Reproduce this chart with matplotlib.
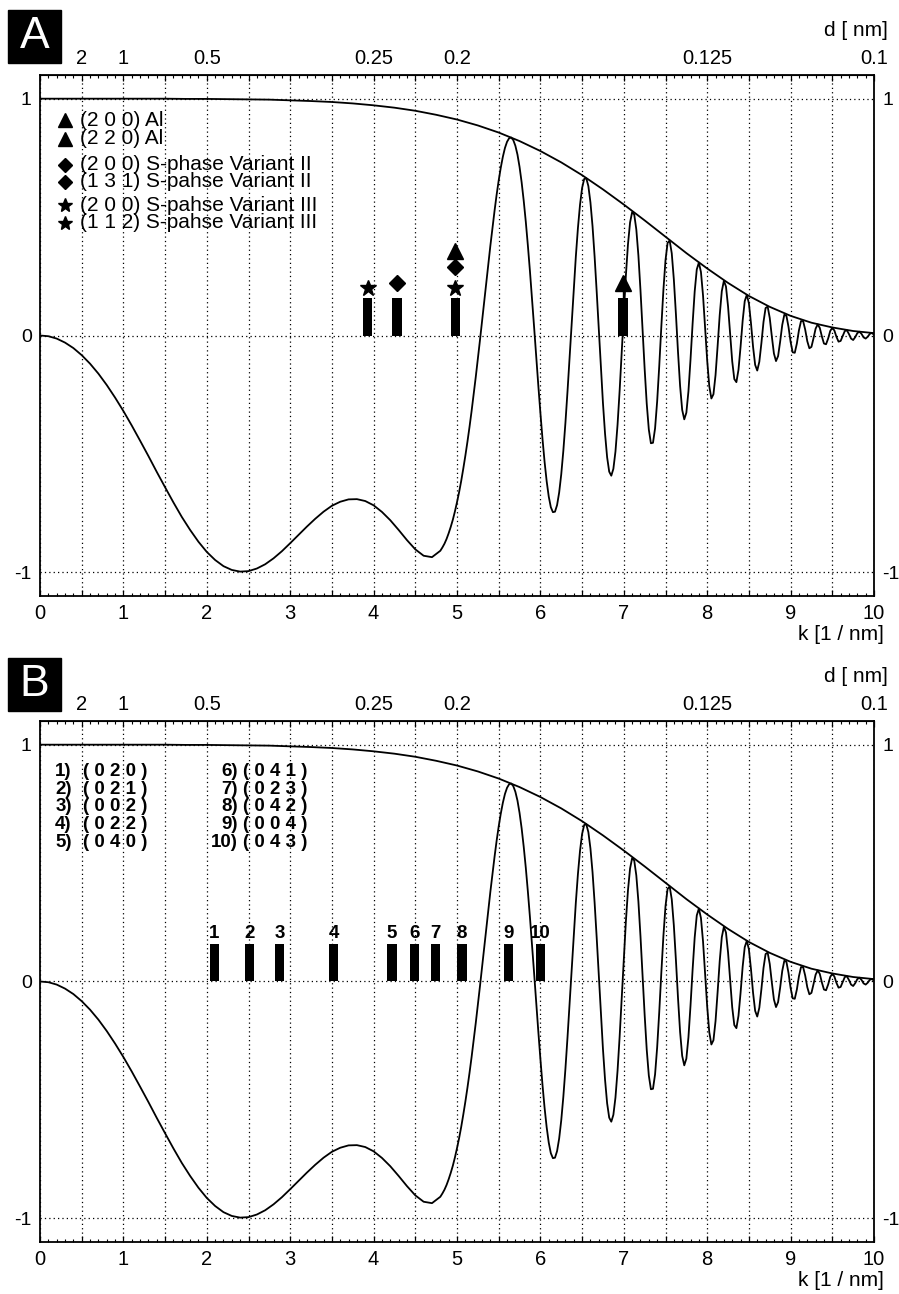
import numpy as np
import matplotlib
matplotlib.use("Agg")
import matplotlib.pyplot as plt
from matplotlib.patches import Rectangle
from matplotlib.ticker import MultipleLocator, NullLocator

plt.rcParams["font.family"] = ["Liberation Sans", "DejaVu Sans"]

# spatial frequency k [1/nm] and transfer function
k_coarse = [0.0, 0.1, 0.2, 0.3, 0.4, 0.5, 0.6, 0.7, 0.8, 0.9, 1.0, 1.1,
            1.2, 1.3, 1.4, 1.5, 1.6, 1.7, 1.8, 1.9, 2.0, 2.1, 2.2, 2.3,
            2.4, 2.5, 2.6, 2.7, 2.8, 2.9, 3.0, 3.1, 3.2, 3.3, 3.4, 3.5,
            3.6, 3.7, 3.8, 3.9, 4.0, 4.1, 4.2, 4.3, 4.4, 4.5, 4.6, 4.7]
ctf_coarse = [0.000, -0.003, -0.013, -0.030, -0.053, -0.083, -0.119, -0.161, -0.209, -0.262, -0.319, -0.380,
              -0.444, -0.509, -0.576, -0.641, -0.705, -0.766, -0.821, -0.871, -0.914, -0.948, -0.974, -0.990,
              -0.997, -0.995, -0.984, -0.966, -0.941, -0.911, -0.877, -0.842, -0.807, -0.774, -0.744, -0.719,
              -0.702, -0.692, -0.691, -0.699, -0.717, -0.745, -0.780, -0.821, -0.864, -0.903, -0.930, -0.936]

k_fine = [4.8, 4.825, 4.85, 4.875, 4.9, 4.925, 4.95, 4.975,
          5.0, 5.025, 5.05, 5.075, 5.1, 5.125, 5.15, 5.175,
          5.2, 5.225, 5.25, 5.275, 5.3, 5.325, 5.35, 5.375,
          5.4, 5.425, 5.45, 5.475, 5.5, 5.525, 5.55, 5.575,
          5.6, 5.625, 5.65, 5.675, 5.7, 5.725, 5.75, 5.775,
          5.8, 5.825, 5.85, 5.875, 5.9, 5.925, 5.95, 5.975,
          6.0, 6.025, 6.05, 6.075, 6.1, 6.125, 6.15, 6.175,
          6.2, 6.225, 6.25, 6.275, 6.3, 6.325, 6.35, 6.375,
          6.4, 6.425, 6.45, 6.475, 6.5, 6.525, 6.55, 6.575,
          6.6, 6.625, 6.65, 6.675, 6.7, 6.725, 6.75, 6.775,
          6.8, 6.825, 6.85, 6.875, 6.9, 6.925, 6.95, 6.975,
          7.0, 7.025, 7.05, 7.075, 7.1, 7.125, 7.15, 7.175,
          7.2, 7.225, 7.25, 7.275, 7.3, 7.325, 7.35, 7.375,
          7.4, 7.425, 7.45, 7.475, 7.5, 7.525, 7.55, 7.575,
          7.6, 7.625, 7.65, 7.675, 7.7, 7.725, 7.75, 7.775,
          7.8, 7.825, 7.85, 7.875, 7.9, 7.925, 7.95, 7.975,
          8.0, 8.025, 8.05, 8.075, 8.1, 8.125, 8.15, 8.175,
          8.2, 8.225, 8.25, 8.275, 8.3, 8.325, 8.35, 8.375,
          8.4, 8.425, 8.45, 8.475, 8.5, 8.525, 8.55, 8.575,
          8.6, 8.625, 8.65, 8.675, 8.7, 8.725, 8.75, 8.775,
          8.8, 8.825, 8.85, 8.875, 8.9, 8.925, 8.95, 8.975,
          9.0, 9.025, 9.05, 9.075, 9.1, 9.125, 9.15, 9.175,
          9.2, 9.225, 9.25, 9.275, 9.3, 9.325, 9.35, 9.375,
          9.4, 9.425, 9.45, 9.475, 9.5, 9.525, 9.55, 9.575,
          9.6, 9.625, 9.65, 9.675, 9.7, 9.725, 9.75, 9.775,
          9.8, 9.825, 9.85, 9.875, 9.9, 9.925, 9.95, 9.975,
          10.0]
ctf_fine = [-0.909, -0.895, -0.879, -0.859, -0.835, -0.808, -0.778, -0.743,
            -0.704, -0.662, -0.615, -0.563, -0.508, -0.449, -0.386, -0.319,
            -0.248, -0.175, -0.099, -0.021, 0.059, 0.140, 0.220, 0.300,
            0.379, 0.454, 0.526, 0.594, 0.655, 0.709, 0.755, 0.792,
            0.818, 0.833, 0.836, 0.825, 0.801, 0.764, 0.712, 0.647,
            0.569, 0.480, 0.379, 0.270, 0.153, 0.033, -0.090, -0.211,
            -0.327, -0.436, -0.533, -0.615, -0.680, -0.725, -0.746, -0.744,
            -0.716, -0.663, -0.586, -0.487, -0.369, -0.236, -0.093, 0.054,
            0.198, 0.334, 0.454, 0.552, 0.623, 0.661, 0.664, 0.631,
            0.562, 0.462, 0.333, 0.185, 0.026, -0.134, -0.285, -0.414,
            -0.514, -0.575, -0.592, -0.563, -0.490, -0.377, -0.233, -0.070,
            0.097, 0.254, 0.385, 0.477, 0.521, 0.511, 0.448, 0.338,
            0.191, 0.026, -0.141, -0.288, -0.397, -0.455, -0.453, -0.392,
            -0.278, -0.129, 0.037, 0.193, 0.318, 0.391, 0.401, 0.347,
            0.237, 0.090, -0.070, -0.213, -0.314, -0.354, -0.326, -0.236,
            -0.101, 0.050, 0.186, 0.279, 0.308, 0.268, 0.169, 0.033,
            -0.106, -0.214, -0.266, -0.248, -0.167, -0.044, 0.086, 0.187,
            0.231, 0.207, 0.123, 0.006, -0.109, -0.184, -0.197, -0.145,
            -0.048, 0.062, 0.145, 0.172, 0.136, 0.052, -0.048, -0.124,
            -0.148, -0.111, -0.032, 0.057, 0.116, 0.122, 0.074, -0.004,
            -0.076, -0.108, -0.087, -0.025, 0.045, 0.088, 0.083, 0.036,
            -0.027, -0.071, -0.073, -0.034, 0.022, 0.061, 0.061, 0.025,
            -0.024, -0.054, -0.048, -0.011, 0.029, 0.047, 0.032, -0.004,
            -0.034, -0.037, -0.013, 0.019, 0.033, 0.021, -0.006, -0.026,
            -0.023, -0.002, 0.019, 0.022, 0.006, -0.013, -0.019, -0.007,
            0.010, 0.016, 0.007, -0.008, -0.013, -0.005, 0.007, 0.011,
            0.003]

# damping envelope
env_k = [0.0, 0.25, 0.5, 0.75, 1.0, 1.25, 1.5, 1.75, 2.0, 2.25, 2.5, 2.75,
         3.0, 3.25, 3.5, 3.75, 4.0, 4.25, 4.5, 4.75, 5.0, 5.25, 5.5, 5.75,
         6.0, 6.25, 6.5, 6.75, 7.0, 7.25, 7.5, 7.75, 8.0, 8.25, 8.5, 8.75,
         9.0, 9.25, 9.5, 9.75, 10.0]
env_vals = [1.000, 1.000, 1.000, 1.000, 1.000, 1.000, 1.000, 0.999, 0.999, 0.998, 0.997, 0.996,
            0.993, 0.990, 0.986, 0.980, 0.972, 0.962, 0.949, 0.932, 0.912, 0.887, 0.857, 0.821,
            0.779, 0.731, 0.677, 0.617, 0.553, 0.486, 0.417, 0.348, 0.283, 0.222, 0.167, 0.121,
            0.083, 0.054, 0.034, 0.019, 0.010]

k_all = k_coarse + k_fine
ctf_all = ctf_coarse + ctf_fine

# top axis: lattice spacing d [nm]
d_ticks = [2, 1, 0.5, 0.25, 0.2, 0.125, 0.1]
d_labels = ["2", "1", "0.5", "0.25", "0.2", "0.125", "0.1"]

# panel A reflections
a_bars = [3.93, 4.28, 4.98, 6.99]
bar_h = 0.16
a_legend_markers = ["^", "^", "D", "D", "*", "*"]
a_legend_labels = ["(2 0 0) Al", "(2 2 0) Al", "(2 0 0) S-phase Variant II",
                   "(1 3 1) S-pahse Variant II", "(2 0 0) S-pahse Variant III",
                   "(1 1 2) S-pahse Variant III"]
mark_k = [3.93, 4.28, 4.98, 4.98, 4.98, 6.99]
mark_sym = ["*", "D", "*", "D", "^", "^"]
mark_y = [0.20, 0.22, 0.20, 0.29, 0.355, 0.22]

# panel B reflections
b_bars = [2.09, 2.51, 2.87, 3.52, 4.22, 4.49, 4.74, 5.06, 5.62, 6.00]
b_bar_labels = ["1", "2", "3", "4", "5", "6", "7", "8", "9", "10"]
b_legend_num = ["1)", "2)", "3)", "4)", "5)", "6)", "7)", "8)", "9)", "10)"]
b_legend_hkl = ["( 0 2 0 )", "( 0 2 1 )", "( 0 0 2 )", "( 0 2 2 )", "( 0 4 0 )",
                "( 0 4 1 )", "( 0 2 3 )", "( 0 4 2 )", "( 0 0 4 )", "( 0 4 3 )"]

W, H = 899, 1294
fig = plt.figure(figsize=(W / 100, H / 100), dpi=100)
sizes = {"^": 11, "D": 8.5, "*": 12}


def k_to_d(x):
    return 1.0 / np.maximum(np.asarray(x, dtype=float), 1e-3)


def setup(ax, letter, box_top):
    ax.set_xlim(0, 10)
    ax.set_ylim(-1.1, 1.1)
    xt = [0.5 * i for i in range(21)]
    ax.set_xticks(xt)
    ax.set_xticklabels([str(int(v)) if v == int(v) else "" for v in xt], fontsize=14.5)
    ax.xaxis.set_minor_locator(MultipleLocator(0.1))
    ax.set_yticks([-1, 0, 1])
    ax.set_yticklabels(["-1", "0", "1"], fontsize=14)
    ax.tick_params(axis="x", which="major", direction="in", top=True, length=4, width=0.9, pad=6)
    ax.tick_params(axis="x", which="minor", direction="in", top=True, length=2, width=0.8)
    ax.tick_params(axis="y", length=0, labelright=True, right=True, pad=6)
    ax.grid(True, which="major", color="black", linestyle=(0, (1, 2.5)), linewidth=0.9)
    for s in ax.spines.values():
        s.set_linewidth(1.3)
    sec = ax.secondary_xaxis("top", functions=(k_to_d, k_to_d))
    sec.set_xticks(d_ticks)
    sec.set_xticklabels(d_labels, fontsize=14.5)
    sec.xaxis.set_minor_locator(NullLocator())
    sec.tick_params(length=0, pad=5)
    ax.plot(k_all, ctf_all, color="black", lw=1.3, zorder=3)
    ax.plot(env_k, env_vals, color="black", lw=1.3, zorder=3)
    fig.add_artist(Rectangle((8 / W, 1 - (box_top + 53) / H), 53 / W, 53 / H,
                             transform=fig.transFigure, color="black"))
    fig.text(34.5 / W, 1 - (box_top + 27) / H, letter, color="white", fontsize=32,
             ha="center", va="center")


axA = fig.add_axes([40 / W, 1 - 596 / H, 834 / W, 521 / H])
setup(axA, "A", 10)
axB = fig.add_axes([40 / W, 1 - 1242 / H, 834 / W, 521 / H])
setup(axB, "B", 658)

fig.text(884 / W, 1 - 635 / H, "k [1 / nm]", fontsize=15, ha="right", va="center")
fig.text(884 / W, 1 - 1280 / H, "k [1 / nm]", fontsize=15, ha="right", va="center")
fig.text(888 / W, 1 - 31 / H, "d [ nm]", fontsize=15, ha="right", va="center")
fig.text(888 / W, 1 - 677 / H, "d [ nm]", fontsize=15, ha="right", va="center")

# panel A
axA.bar(a_bars, bar_h, width=0.11, color="black", zorder=4)
axA.vlines(a_bars[-1], bar_h, mark_y[-1], color="black", lw=1, zorder=4)
for x, m, y in zip(mark_k, mark_sym, mark_y):
    axA.plot(x, y, marker=m, color="black", ms=sizes[m], ls="none", zorder=5)
a_rows = [0.911, 0.831, 0.722, 0.650, 0.549, 0.477]
for m, y in zip(a_legend_markers, a_rows):
    axA.plot(0.30, y, marker=m, color="black", ms=sizes[m] - 1.5, ls="none", zorder=5)
# legend lines come in tight pairs, so each pair is one two-line text
for j, sp in zip(range(3), [0.95, 0.85, 0.85]):
    pair = a_legend_labels[2 * j] + "\n" + a_legend_labels[2 * j + 1]
    yc = (a_rows[2 * j] + a_rows[2 * j + 1]) / 2
    axA.text(0.48, yc, pair, fontsize=15, va="center", ha="left",
             linespacing=sp, zorder=5)

# panel B
axB.bar(b_bars, bar_h, width=0.11, color="black", zorder=4)
for x, lab in zip(b_bars, b_bar_labels):
    axB.text(x, bar_h + 0.005, lab, fontsize=13.5, fontweight="bold", ha="center", va="bottom")
b_rows = [0.887, 0.81, 0.737, 0.663, 0.586]
for i in range(10):
    col = i // 5
    y = b_rows[i % 5]
    axB.text([0.38, 2.37][col], y, b_legend_num[i], fontsize=13.5, fontweight="bold",
             ha="right", va="center")
    axB.text([0.51, 2.43][col], y, b_legend_hkl[i], fontsize=13.5, fontweight="bold",
             ha="left", va="center")

fig.savefig("out.png", dpi=100)
